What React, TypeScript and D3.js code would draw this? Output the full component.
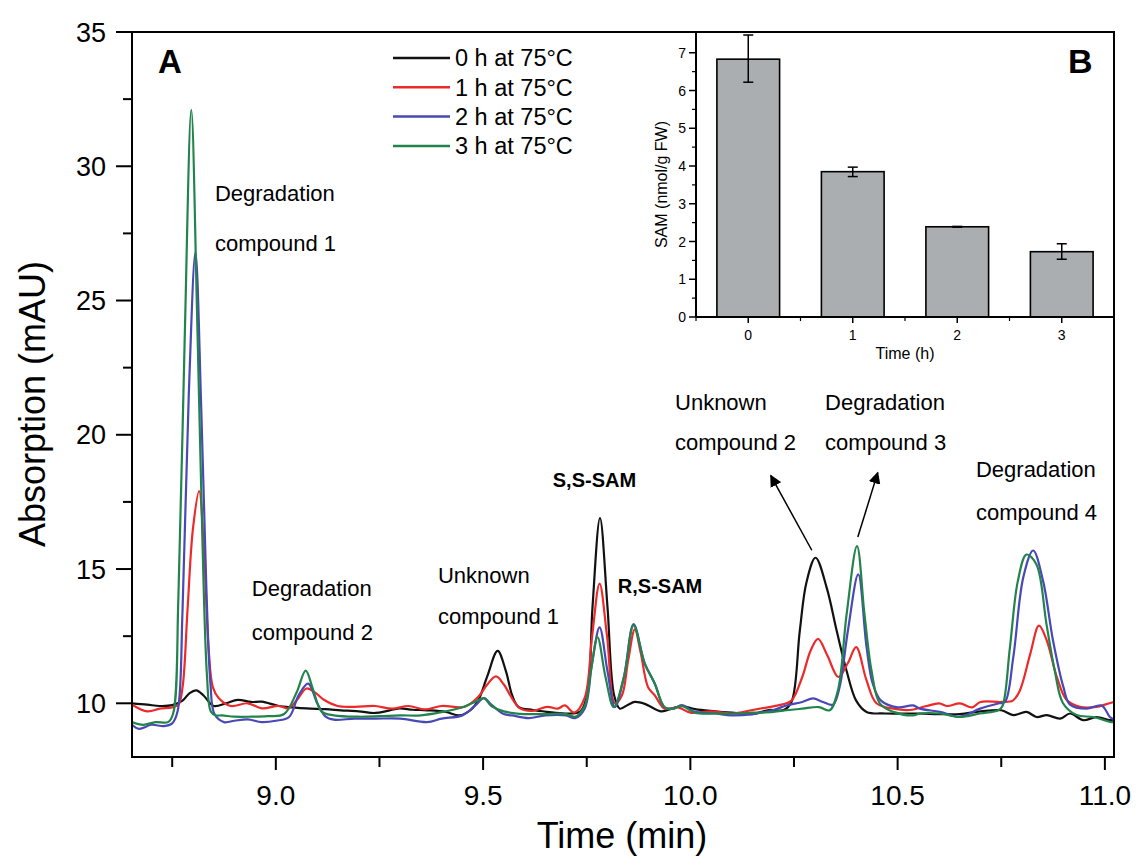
import * as d3 from 'd3';

// chromatogram traces, [time (min), absorption (mAU)]
const trace0h: [number, number][] = [
  [8.653, 10.0], [8.69, 9.95], [8.72, 9.9], [8.75, 9.93], [8.775, 10.1], [8.792, 10.38], [8.808, 10.48],
  [8.825, 10.3], [8.85, 9.9], [8.88, 10.0], [8.908, 10.13], [8.94, 10.05], [8.966, 10.06], [9.007, 9.9],
  [9.04, 9.85], [9.074, 9.81], [9.12, 9.78], [9.157, 9.74], [9.2, 9.7], [9.24, 9.64], [9.27, 9.72],
  [9.298, 9.81], [9.33, 9.76], [9.365, 9.74], [9.41, 9.68], [9.443, 9.55], [9.47, 9.75], [9.489, 10.13],
  [9.51, 11.0], [9.535, 11.95], [9.555, 11.2], [9.57, 10.3], [9.585, 9.87], [9.62, 9.75], [9.655, 9.68],
  [9.7, 9.62], [9.735, 9.7], [9.752, 10.4], [9.764, 13.6], [9.782, 16.9], [9.8, 13.6], [9.816, 10.3],
  [9.83, 9.8], [9.85, 9.95], [9.866, 10.05], [9.89, 9.98], [9.93, 9.7], [9.955, 9.8], [9.979, 9.9],
  [10.011, 9.78], [10.06, 9.7], [10.1, 9.65], [10.15, 9.6], [10.19, 9.75], [10.225, 9.75], [10.244, 10.05],
  [10.264, 12.7], [10.28, 14.5], [10.302, 15.42], [10.329, 14.3], [10.353, 12.7], [10.377, 11.2],
  [10.4, 10.1], [10.425, 9.68], [10.47, 9.62], [10.55, 9.62], [10.6, 9.6], [10.65, 9.6], [10.7, 9.7],
  [10.75, 9.74], [10.779, 9.56], [10.811, 9.68], [10.835, 9.49], [10.86, 9.56], [10.892, 9.43],
  [10.916, 9.62], [10.948, 9.37], [10.98, 9.49], [11.012, 9.37], [11.022, 9.4],
];

const trace1h: [number, number][] = [
  [8.653, 9.95], [8.69, 9.7], [8.72, 9.8], [8.75, 9.85], [8.765, 9.95], [8.775, 10.6], [8.787, 13.5],
  [8.8, 16.5], [8.815, 17.9], [8.827, 15.5], [8.838, 12.0], [8.848, 10.6], [8.862, 10.2], [8.891, 9.9],
  [8.932, 10.0], [8.966, 9.81], [9.007, 9.9], [9.03, 9.81], [9.05, 10.1], [9.074, 10.55], [9.095, 10.4],
  [9.116, 10.13], [9.149, 9.9], [9.19, 9.87], [9.24, 9.9], [9.28, 9.8], [9.32, 9.9], [9.36, 9.77],
  [9.4, 9.9], [9.456, 9.87], [9.489, 10.25], [9.51, 10.7], [9.531, 11.0], [9.55, 10.7], [9.572, 10.13],
  [9.59, 9.8], [9.62, 9.72], [9.655, 9.87], [9.68, 9.8], [9.697, 9.92], [9.72, 9.65], [9.745, 10.2],
  [9.763, 12.5], [9.781, 14.46], [9.799, 12.5], [9.818, 10.0], [9.835, 10.3], [9.85, 11.6], [9.866, 12.75],
  [9.88, 11.9], [9.898, 10.6], [9.914, 10.3], [9.938, 9.8], [9.97, 9.85], [10.0, 9.65], [10.05, 9.7],
  [10.1, 9.62], [10.15, 9.75], [10.19, 9.86], [10.22, 9.95], [10.244, 10.1], [10.27, 10.98],
  [10.29, 11.96], [10.308, 12.4], [10.33, 11.8], [10.357, 10.98], [10.38, 11.5], [10.4, 12.09],
  [10.425, 10.85], [10.449, 10.0], [10.49, 9.8], [10.53, 9.75], [10.57, 9.9], [10.6, 10.0], [10.62, 9.9],
  [10.65, 10.0], [10.68, 9.85], [10.7, 10.05], [10.75, 10.05], [10.778, 10.1], [10.795, 10.48],
  [10.82, 11.84], [10.841, 12.89], [10.86, 12.33], [10.884, 10.98], [10.908, 10.12], [10.94, 9.87],
  [10.98, 9.87], [11.0, 9.95], [11.022, 10.05],
];

const trace2h: [number, number][] = [
  [8.653, 9.2], [8.67, 9.05], [8.7, 9.2], [8.73, 9.15], [8.75, 9.25], [8.763, 9.7], [8.775, 13.5],
  [8.79, 21.5], [8.806, 26.8], [8.82, 21.0], [8.832, 14.5], [8.842, 10.8], [8.852, 9.6], [8.875, 9.3],
  [8.9, 9.35], [8.932, 9.4], [8.966, 9.3], [9.0, 9.35], [9.032, 9.49], [9.055, 10.3], [9.078, 10.73],
  [9.1, 10.0], [9.12, 9.5], [9.14, 9.39], [9.19, 9.43], [9.24, 9.43], [9.3, 9.43], [9.365, 9.3],
  [9.4, 9.43], [9.45, 9.55], [9.48, 9.9], [9.502, 10.19], [9.52, 9.95], [9.55, 9.6], [9.57, 9.55],
  [9.61, 9.45], [9.65, 9.55], [9.7, 9.55], [9.722, 9.45], [9.745, 9.8], [9.763, 11.5], [9.781, 12.83],
  [9.8, 11.2], [9.818, 9.86], [9.84, 11.0], [9.863, 12.95], [9.89, 11.48], [9.914, 10.74], [9.938, 9.85],
  [9.96, 9.8], [9.979, 9.93], [10.011, 9.68], [10.06, 9.62], [10.1, 9.55], [10.15, 9.6], [10.2, 9.75],
  [10.232, 9.92], [10.27, 10.05], [10.296, 10.18], [10.32, 10.05], [10.344, 9.95], [10.36, 10.6],
  [10.38, 12.7], [10.405, 14.8], [10.425, 12.1], [10.44, 10.73], [10.46, 10.1], [10.5, 9.85],
  [10.537, 9.92], [10.554, 9.8], [10.602, 9.68], [10.65, 9.5], [10.699, 9.8], [10.745, 10.0],
  [10.759, 10.05], [10.779, 11.71], [10.803, 14.68], [10.827, 15.69], [10.851, 14.55], [10.875, 12.33],
  [10.9, 10.6], [10.916, 9.95], [10.956, 9.8], [10.992, 9.92], [11.012, 9.49], [11.022, 9.4],
];

const trace3h: [number, number][] = [
  [8.653, 9.3], [8.68, 9.2], [8.71, 9.3], [8.74, 9.3], [8.752, 9.6], [8.765, 14.0], [8.78, 23.5],
  [8.796, 32.1], [8.81, 24.5], [8.823, 16.0], [8.834, 11.0], [8.843, 9.7], [8.855, 9.55], [8.87, 9.55],
  [8.9, 9.5], [8.94, 9.5], [8.98, 9.52], [9.02, 9.6], [9.05, 10.4], [9.072, 11.22], [9.09, 10.5],
  [9.11, 9.7], [9.14, 9.55], [9.2, 9.5], [9.25, 9.52], [9.3, 9.55], [9.35, 9.55], [9.4, 9.67],
  [9.45, 9.85], [9.48, 10.05], [9.502, 10.19], [9.52, 9.9], [9.55, 9.7], [9.6, 9.6], [9.65, 9.6],
  [9.7, 9.6], [9.722, 9.5], [9.745, 9.9], [9.76, 11.2], [9.776, 12.46], [9.795, 11.0], [9.815, 9.86],
  [9.84, 11.0], [9.863, 12.9], [9.89, 11.48], [9.914, 10.74], [9.938, 9.85], [9.96, 9.8], [9.979, 9.9],
  [10.011, 9.65], [10.06, 9.62], [10.1, 9.62], [10.15, 9.65], [10.2, 9.68], [10.232, 9.74], [10.27, 9.8],
  [10.31, 9.86], [10.336, 9.74], [10.356, 10.48], [10.377, 13.32], [10.402, 15.85], [10.42, 13.32],
  [10.437, 11.22], [10.457, 10.0], [10.49, 9.68], [10.537, 9.55], [10.554, 9.62], [10.602, 9.62],
  [10.65, 9.49], [10.699, 9.62], [10.743, 9.74], [10.753, 9.9], [10.771, 12.09], [10.79, 14.55],
  [10.811, 15.54], [10.835, 15.17], [10.859, 12.96], [10.879, 11.22], [10.899, 10.0], [10.932, 9.56],
  [10.972, 9.49], [11.012, 9.31], [11.022, 9.3],
];

const seriesNames = ['0 h at 75°C', '1 h at 75°C', '2 h at 75°C', '3 h at 75°C'];
const seriesColors = ['#111111', '#ec2a2a', '#4848b6', '#22844c'];
const traces = [trace0h, trace1h, trace2h, trace3h];

const xMajorTicks = [9.0, 9.5, 10.0, 10.5, 11.0];
const xMinorTicks = [8.75, 9.25, 9.75, 10.25, 10.75];
const yMajorTicks = [10, 15, 20, 25, 30, 35];
const yMinorTicks = [12.5, 17.5, 22.5, 27.5, 32.5];

// inset B: SAM content
const hours = [0, 1, 2, 3];
const samMean = [6.83, 3.85, 2.39, 1.73];
const samLow = [6.22, 3.72, 2.38, 1.53];
const samHigh = [7.47, 3.97, 2.40, 1.94];
const insetYTicks = [0, 1, 2, 3, 4, 5, 6, 7];

// peak annotations: [time, absorption] of first line's left baseline
const peakLabels: { t: number; v: number; lines: string[]; gap: number; bold?: boolean }[] = [
  { t: 8.853, v: 28.7, lines: ['Degradation', 'compound 1'], gap: 50 },
  { t: 8.942, v: 14.0, lines: ['Degradation', 'compound 2'], gap: 44 },
  { t: 9.391, v: 14.47, lines: ['Unknown', 'compound 1'], gap: 41 },
  { t: 9.963, v: 20.93, lines: ['Unknown', 'compound 2'], gap: 40 },
  { t: 10.325, v: 20.93, lines: ['Degradation', 'compound 3'], gap: 40 },
  { t: 10.689, v: 18.41, lines: ['Degradation', 'compound 4'], gap: 43 },
  { t: 9.668, v: 18.05, lines: ['S,S-SAM'], gap: 0, bold: true },
  { t: 9.825, v: 14.1, lines: ['R,S-SAM'], gap: 0, bold: true },
];

const arrows: [number, number, number, number][] = [
  [10.293, 15.7, 10.194, 18.48],
  [10.404, 16.19, 10.452, 18.59],
];

const FONT = '"Liberation Sans", Arial, Helvetica, sans-serif';

export default function App() {
  const left = 132, right = 1114, top = 32, bottom = 757;
  const x = d3.scaleLinear().domain([8.653, 11.022]).range([left, right]);
  const y = d3.scaleLinear().domain([8, 35]).range([bottom, top]);

  const line = d3
    .line<[number, number]>()
    .x((d) => x(d[0]))
    .y((d) => y(d[1]))
    .curve(d3.curveCatmullRom.alpha(0.5));

  // inset geometry
  const iL = 696, iR = right, iT = top, iB = 317;
  const ix = d3.scaleLinear().domain([-0.5, 3.5]).range([iL, iR]);
  const iy = d3.scaleLinear().domain([0, 7.55]).range([iB, iT]);
  const barW = ix(0.3) - ix(-0.3);
  const insetYMinor = d3.range(0.5, 7.5, 1);
  const insetXMinor = [-0.5, 0.5, 1.5, 2.5];

  return (
    <svg
      width={1139}
      height={868}
      style={{ position: 'absolute', left: 0, top: 0, background: '#fff' }}
      fontFamily={FONT}
    >
      <rect x={0} y={0} width={1139} height={868} fill="#fff" />

      <clipPath id="plotClip">
        <rect x={left} y={top} width={right - left} height={bottom - top} />
      </clipPath>

      {/* traces */}
      <g clipPath="url(#plotClip)">
        {traces.map((tr, i) => (
          <path key={i} d={line(tr) || ''} fill="none" stroke={seriesColors[i]} strokeWidth={2.2} strokeLinejoin="round" />
        ))}
      </g>

      {/* frame */}
      <rect x={left} y={top} width={right - left} height={bottom - top} fill="none" stroke="#000" strokeWidth={2} />

      {/* y axis ticks */}
      {yMajorTicks.map((v) => (
        <g key={'ym' + v}>
          <line x1={left - 16} x2={left} y1={y(v)} y2={y(v)} stroke="#000" strokeWidth={2} />
          <text x={left - 26} y={y(v)} dy="0.36em" textAnchor="end" fontSize={27}>{v}</text>
        </g>
      ))}
      {yMinorTicks.map((v) => (
        <line key={'yn' + v} x1={left - 9} x2={left} y1={y(v)} y2={y(v)} stroke="#000" strokeWidth={2} />
      ))}

      {/* x axis ticks */}
      {xMajorTicks.map((t) => (
        <g key={'xm' + t}>
          <line x1={x(t)} x2={x(t)} y1={bottom} y2={bottom + 13} stroke="#000" strokeWidth={2} />
          <text x={x(t)} y={bottom + 48} textAnchor="middle" fontSize={28}>{t.toFixed(1)}</text>
        </g>
      ))}
      {xMinorTicks.map((t) => (
        <line key={'xn' + t} x1={x(t)} x2={x(t)} y1={bottom} y2={bottom + 10} stroke="#000" strokeWidth={2} />
      ))}

      <text x={622} y={848} textAnchor="middle" fontSize={36}>Time (min)</text>
      <text transform="translate(45,404) rotate(-90)" textAnchor="middle" fontSize={36}>Absorption (mAU)</text>

      <text x={158} y={73} fontSize={33} fontWeight="bold">A</text>

      {/* legend */}
      {seriesNames.map((name, i) => (
        <g key={name} transform={`translate(393,${58 + i * 29.3})`}>
          <line x1={0} x2={57} y1={0} y2={0} stroke={seriesColors[i]} strokeWidth={2.5} />
          <text x={62} y={0} dy="0.36em" fontSize={23.5}>{name}</text>
        </g>
      ))}

      {/* peak labels */}
      {peakLabels.map((p, i) => (
        <text key={i} x={x(p.t)} y={y(p.v)} fontSize={p.bold ? 20 : 22} fontWeight={p.bold ? 'bold' : 'normal'}>
          {p.lines.map((l, j) => (
            <tspan key={j} x={x(p.t)} dy={j === 0 ? 0 : p.gap}>{l}</tspan>
          ))}
        </text>
      ))}

      {/* arrows */}
      <defs>
        <marker id="arrowHead" viewBox="0 0 10 10" refX={9} refY={5} markerWidth={12} markerHeight={12} markerUnits="userSpaceOnUse" orient="auto">
          <path d="M0,0 L10,5 L0,10 z" fill="#000" />
        </marker>
      </defs>
      {arrows.map((a, i) => (
        <line key={i} x1={x(a[0])} y1={y(a[1])} x2={x(a[2])} y2={y(a[3])} stroke="#000" strokeWidth={1.5} markerEnd="url(#arrowHead)" />
      ))}

      {/* inset B */}
      <rect x={iL} y={iT} width={iR - iL} height={iB - iT} fill="#fff" />
      {hours.map((h, i) => (
        <rect key={'bar' + h} x={ix(h) - barW / 2} y={iy(samMean[i])} width={barW} height={iB - iy(samMean[i])}
          fill="#abaeb1" stroke="#000" strokeWidth={1.6} />
      ))}
      {hours.map((h, i) => (
        <g key={'err' + h} stroke="#000" strokeWidth={1.5}>
          <line x1={ix(h)} x2={ix(h)} y1={iy(samLow[i])} y2={iy(samHigh[i])} />
          <line x1={ix(h) - 5} x2={ix(h) + 5} y1={iy(samLow[i])} y2={iy(samLow[i])} />
          <line x1={ix(h) - 5} x2={ix(h) + 5} y1={iy(samHigh[i])} y2={iy(samHigh[i])} />
        </g>
      ))}
      <line x1={iL} x2={iL} y1={iT} y2={iB} stroke="#000" strokeWidth={2} />
      <line x1={iL} x2={iR} y1={iB} y2={iB} stroke="#000" strokeWidth={2} />
      <line x1={iL} x2={iR} y1={iT} y2={iT} stroke="#000" strokeWidth={2} />
      <line x1={iR} x2={iR} y1={iT} y2={iB} stroke="#000" strokeWidth={2} />
      {insetYTicks.map((v) => (
        <g key={'iy' + v}>
          <line x1={iL - 7} x2={iL} y1={iy(v)} y2={iy(v)} stroke="#000" strokeWidth={1.5} />
          <text x={iL - 10} y={iy(v)} dy="0.36em" textAnchor="end" fontSize={14}>{v}</text>
        </g>
      ))}
      {insetYMinor.map((v) => (
        <line key={'iyn' + v} x1={iL - 4} x2={iL} y1={iy(v)} y2={iy(v)} stroke="#000" strokeWidth={1.2} />
      ))}
      {hours.map((h) => (
        <g key={'ix' + h}>
          <line x1={ix(h)} x2={ix(h)} y1={iB} y2={iB + 6} stroke="#000" strokeWidth={1.5} />
          <text x={ix(h)} y={iB + 23} textAnchor="middle" fontSize={14}>{h}</text>
        </g>
      ))}
      {insetXMinor.map((h) => (
        <line key={'ixn' + h} x1={ix(h)} x2={ix(h)} y1={iB} y2={iB + 4} stroke="#000" strokeWidth={1.2} />
      ))}
      <text x={(iL + iR) / 2} y={iB + 42} textAnchor="middle" fontSize={16}>Time (h)</text>
      <text transform={`translate(667,${(iT + iB) / 2 + 10}) rotate(-90)`} textAnchor="middle" fontSize={16}>SAM (nmol/g FW)</text>
      <text x={1068} y={73} fontSize={34} fontWeight="bold">B</text>
    </svg>
  );
}
